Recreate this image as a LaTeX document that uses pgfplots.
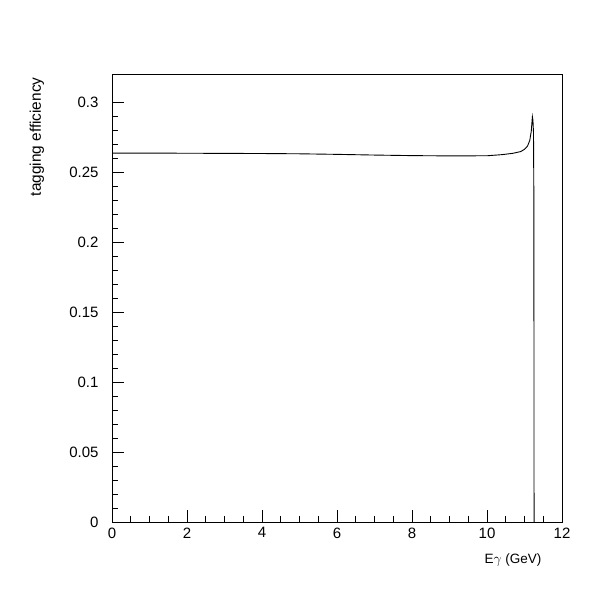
\documentclass[border=0pt]{standalone}
\usepackage{fontspec}
\setmainfont{Liberation Sans}
\usepackage{pgfplots}
\pgfplotsset{compat=1.18}
\begin{document}
\begin{tikzpicture}
\useasboundingbox (0pt,0pt) rectangle (600pt,600pt);
\begin{axis}[
  at={(112pt,78pt)}, anchor=south west,
  scale only axis, width=450pt, height=448pt,
  xmin=0, xmax=12, ymin=0, ymax=0.32,
  xtick={0,2,4,6,8,10,12},
  xticklabels={0,2,4,6,8,10,12},
  ytick={0,0.05,0.1,0.15,0.2,0.25,0.3},
  yticklabels={0,0.05,0.1,0.15,0.2,0.25,0.3},
  minor x tick num=3, minor y tick num=4,
  xtick pos=bottom, ytick pos=left,
  tick align=inside,
  major tick length=12pt, minor tick length=6pt,
  axis line style={line width=0.8pt},
  every tick/.style={black, line width=0.8pt},
  tick label style={font=\fontsize{15}{17}\selectfont},
  yticklabel style={xshift=-10pt},
  xticklabel style={yshift=-2pt},
  xlabel={E$\gamma$ (GeV)},
  ylabel={tagging efficiency},
  xlabel style={font=\fontsize{13.5}{16}\selectfont, at={(axis description cs:0.962,-0.085)}, anchor=east},
  ylabel style={font=\fontsize{15.4}{17}\selectfont, at={(axis description cs:-0.167,1)}, anchor=east},
]
\addplot[black, line width=0.9pt] coordinates {
(0,0.2635) (1,0.2635) (2,0.2634) (3,0.2633) (4,0.2632) (5,0.2630)
(6,0.2626) (7,0.2621) (8,0.2617) (9,0.2615) (10,0.2616) (10.4,0.2624)
(10.7,0.2634) (10.9,0.2646) (11.0,0.2662) (11.08,0.2685) (11.14,0.2725)
(11.18,0.2790) (11.20,0.2860) (11.21,0.2895) (11.225,0.2870) (11.24,0.2780)
(11.25,0.2300) (11.255,0.0)
};
\end{axis}
\end{tikzpicture}
\end{document}
